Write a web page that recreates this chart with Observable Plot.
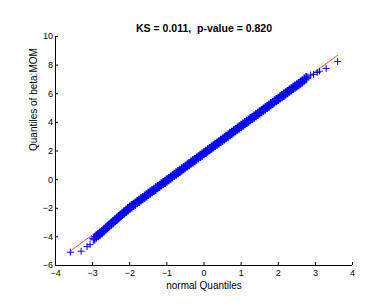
<!DOCTYPE html>
<html><head><meta charset="utf-8">
<script src="https://cdn.jsdelivr.net/npm/d3@7"></script>
<script src="https://cdn.jsdelivr.net/npm/@observablehq/plot@0.6"></script>
<style>body{margin:0;background:#fff}#chart{width:388px;height:307px}</style>
</head><body><div id="chart"></div>
<script>
const titleText = "KS = 0.011,\u00a0 p-value = 0.820";
const xLabel = "normal Quantiles";
const yLabel = "Quantiles of beta:MOM";
const xTicks = [-4, -3, -2, -1, 0, 1, 2, 3, 4];
const yTicks = [-6, -4, -2, 0, 2, 4, 6, 8, 10];

// sparse tail points (normal quantile, sample quantile)
const tailX = [-3.60, -3.31, -3.15, -3.07, -2.98, 2.80, 2.87, 2.95, 3.05, 3.11, 3.29, 3.60];
const tailY = [-5.07, -5.00, -4.68, -4.54, -4.21, 7.18, 7.30, 7.36, 7.49, 7.58, 7.77, 8.26];

// dense central band: normal quantiles
const bandX = [
  -2.95, -2.90, -2.85, -2.80, -2.75, -2.70, -2.65, -2.60, -2.55, -2.50, -2.45, -2.40, -2.35, -2.30, -2.25, -2.20, -2.15, -2.10, -2.05, -2.00,
  -1.95, -1.90, -1.85, -1.80, -1.75, -1.70, -1.65, -1.60, -1.55, -1.50, -1.45, -1.40, -1.35, -1.30, -1.25, -1.20, -1.15, -1.10, -1.05, -1.00,
  -0.95, -0.90, -0.85, -0.80, -0.75, -0.70, -0.65, -0.60, -0.55, -0.50, -0.45, -0.40, -0.35, -0.30, -0.25, -0.20, -0.15, -0.10, -0.05, 0.00,
  0.05, 0.10, 0.15, 0.20, 0.25, 0.30, 0.35, 0.40, 0.45, 0.50, 0.55, 0.60, 0.65, 0.70, 0.75, 0.80, 0.85, 0.90, 0.95, 1.00,
  1.05, 1.10, 1.15, 1.20, 1.25, 1.30, 1.35, 1.40, 1.45, 1.50, 1.55, 1.60, 1.65, 1.70, 1.75, 1.80, 1.85, 1.90, 1.95, 2.00,
  2.05, 2.10, 2.15, 2.20, 2.25, 2.30, 2.35, 2.40, 2.45, 2.50, 2.55, 2.60, 2.65, 2.70, 2.75];
// dense central band: sample quantiles of beta:MOM
const bandY = [
  -4.11, -3.99, -3.88, -3.77, -3.66, -3.54, -3.43, -3.31, -3.20, -3.08, -2.97, -2.85, -2.74, -2.62, -2.51, -2.40, -2.29, -2.18, -2.07, -1.96,
  -1.86, -1.76, -1.67, -1.57, -1.48, -1.38, -1.29, -1.19, -1.10, -1.00, -0.91, -0.81, -0.72, -0.62, -0.53, -0.43, -0.34, -0.24, -0.15, -0.05,
  0.04, 0.14, 0.23, 0.33, 0.42, 0.52, 0.61, 0.71, 0.80, 0.90, 0.99, 1.09, 1.18, 1.28, 1.37, 1.47, 1.56, 1.66, 1.75, 1.85,
  1.94, 2.04, 2.13, 2.23, 2.32, 2.42, 2.51, 2.61, 2.70, 2.80, 2.89, 2.99, 3.08, 3.18, 3.27, 3.37, 3.46, 3.56, 3.65, 3.75,
  3.84, 3.94, 4.03, 4.13, 4.22, 4.32, 4.41, 4.51, 4.60, 4.70, 4.79, 4.89, 4.98, 5.08, 5.17, 5.27, 5.36, 5.46, 5.55, 5.65,
  5.74, 5.84, 5.93, 6.03, 6.12, 6.22, 6.31, 6.41, 6.50, 6.58, 6.68, 6.77, 6.86, 6.98, 7.10];

// reference line through the quartiles
const fitX = [-3.60, 3.60];
const fitY = [-4.99, 8.69];

const tail = tailX.map((x, i) => ({x, y: tailY[i]}));
const band = bandX.map((x, i) => ({x, y: bandY[i]}));
const fit = fitX.map((x, i) => ({x, y: fitY[i]}));

const font = "'Liberation Sans', Arial, Helvetica, sans-serif";
const chart = Plot.plot({
  width: 388, height: 307,
  marginTop: 36, marginBottom: 42, marginLeft: 55, marginRight: 36,
  style: {fontFamily: font, fontSize: "9px", background: "white", color: "black", overflow: "visible"},
  x: {domain: [-4, 4]},
  y: {domain: [-6, 10]},
  marks: [
    Plot.axisX(xTicks, {tickSize: -3, tickPadding: 7, label: null, fontSize: 9}),
    Plot.axisY(yTicks, {tickSize: -3, tickPadding: 5.5, label: null, fontSize: 9}),
    Plot.ruleX([xTicks[0]], {stroke: "black"}),
    Plot.ruleY([yTicks[0]], {stroke: "black"}),
    Plot.line(fit, {x: "x", y: "y", stroke: "#ff4040", strokeWidth: 0.9}),
    Plot.dot(band, {x: "x", y: "y", symbol: "plus", r: 3.4, stroke: "#0000ff", strokeWidth: 1.6}),
    Plot.dot(tail, {x: "x", y: "y", symbol: "plus", r: 2.4, stroke: "#0000ff", strokeWidth: 1}),
    Plot.text([titleText], {text: d => d, frameAnchor: "top", dy: -12, fontWeight: "bold", fontSize: 10.5}),
    Plot.text([xLabel], {text: d => d, frameAnchor: "bottom", dy: 23, fontSize: 10}),
    Plot.text([yLabel], {text: d => d, frameAnchor: "left", dx: -22, rotate: -90, fontSize: 10})
  ]
});
document.getElementById("chart").append(chart);
</script>
</body></html>
